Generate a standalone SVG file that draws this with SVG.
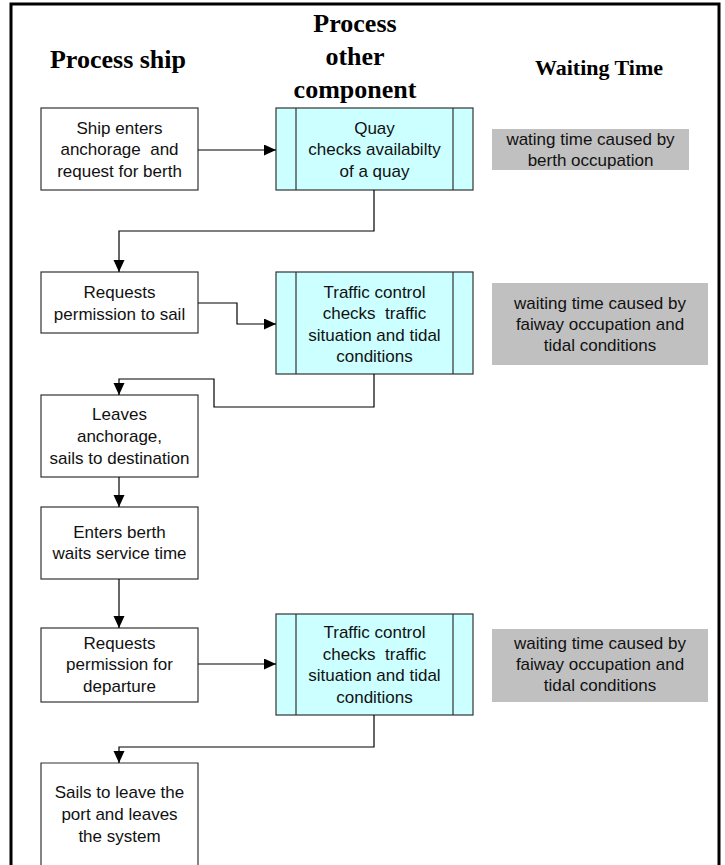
<svg xmlns="http://www.w3.org/2000/svg" width="725" height="865" viewBox="0 0 725 865">
<defs>
<style>
.box{fill:#fff;stroke:#333;stroke-width:1.2}
.proc{fill:#ccffff;stroke:#333;stroke-width:1.2}
.grey{fill:#c0c0c0;stroke:none}
.t{font-family:"Liberation Sans",Arial,sans-serif;font-size:17px;fill:#111;text-anchor:middle;white-space:pre}
.h{font-family:"Liberation Serif","Times New Roman",serif;font-weight:bold;fill:#000;text-anchor:middle}
.c{fill:none;stroke:#000;stroke-width:1.2}
</style>
<marker id="ah" markerUnits="userSpaceOnUse" markerWidth="13" markerHeight="12" refX="12" refY="5.5" orient="auto">
<path d="M0,0 L12,5.5 L0,11 z" fill="#000"/>
</marker>
</defs>
<rect width="725" height="865" fill="#fff"/>
<path d="M11,870 V4 H719 V870" fill="none" stroke="#000" stroke-width="3"/>

<g id="headers">
<text class="h" x="118" y="68" font-size="26">Process ship</text>
<text class="h" x="355" y="32" font-size="26">Process</text>
<text class="h" x="355" y="65" font-size="26">other</text>
<text class="h" x="355" y="98" font-size="26">component</text>
<text class="h" x="599" y="75" font-size="22">Waiting Time</text>
</g>

<g id="n1">
<rect class="box" x="41" y="108" width="157" height="82"/>
<text class="t" x="119.5" y="133.5">Ship enters</text>
<text class="t" x="119.5" y="155" xml:space="preserve">anchorage  and</text>
<text class="t" x="119.5" y="176.5">request for berth</text>
</g>
<g id="quay">
<rect class="proc" x="276" y="108" width="197" height="82"/>
<path class="proc" d="M296,108 V190 M453,108 V190"/>
<text class="t" x="374.5" y="133.5">Quay</text>
<text class="t" x="374.5" y="155">checks availabilty</text>
<text class="t" x="374.5" y="176.5">of a quay</text>
</g>
<g id="w1">
<rect class="grey" x="492" y="129" width="197" height="41"/>
<text class="t" x="590.5" y="145">wating time caused by</text>
<text class="t" x="590.5" y="166">berth occupation</text>
</g>

<g id="n2">
<rect class="box" x="41" y="272" width="157" height="61"/>
<text class="t" x="119.5" y="298">Requests</text>
<text class="t" x="119.5" y="319.5">permission to sail</text>
</g>
<g id="tc1">
<rect class="proc" x="276" y="272" width="197" height="102"/>
<path class="proc" d="M296,272 V374 M453,272 V374"/>
<text class="t" x="374.5" y="297.5">Traffic control</text>
<text class="t" x="374.5" y="319" xml:space="preserve">checks  traffic</text>
<text class="t" x="374.5" y="340.5">situation and tidal</text>
<text class="t" x="374.5" y="362">conditions</text>
</g>
<g id="w2">
<rect class="grey" x="492" y="283" width="216" height="82"/>
<text class="t" x="600" y="309">waiting time caused by</text>
<text class="t" x="600" y="330">faiway occupation and</text>
<text class="t" x="600" y="351">tidal conditions</text>
</g>

<g id="n3">
<rect class="box" x="41" y="395" width="157" height="82"/>
<text class="t" x="119.5" y="420">Leaves</text>
<text class="t" x="119.5" y="442">anchorage,</text>
<text class="t" x="119.5" y="463.5">sails to destination</text>
</g>
<g id="n4">
<rect class="box" x="41" y="507" width="157" height="72"/>
<text class="t" x="119.5" y="538">Enters berth</text>
<text class="t" x="119.5" y="559">waits service time</text>
</g>
<g id="n5">
<rect class="box" x="41" y="628" width="157" height="74"/>
<text class="t" x="119.5" y="649">Requests</text>
<text class="t" x="119.5" y="670">permission for</text>
<text class="t" x="119.5" y="692">departure</text>
</g>
<g id="tc2">
<rect class="proc" x="276" y="614" width="197" height="101"/>
<path class="proc" d="M296,614 V715 M453,614 V715"/>
<text class="t" x="374.5" y="638">Traffic control</text>
<text class="t" x="374.5" y="660" xml:space="preserve">checks  traffic</text>
<text class="t" x="374.5" y="681">situation and tidal</text>
<text class="t" x="374.5" y="703">conditions</text>
</g>
<g id="w3">
<rect class="grey" x="492" y="629" width="216" height="73"/>
<text class="t" x="600" y="649">waiting time caused by</text>
<text class="t" x="600" y="670">faiway occupation and</text>
<text class="t" x="600" y="691">tidal conditions</text>
</g>
<g id="n6">
<path class="box" d="M41,870 V763 H198 V870"/>
<text class="t" x="119.5" y="798">Sails to leave the</text>
<text class="t" x="119.5" y="820">port and leaves</text>
<text class="t" x="119.5" y="842">the system</text>
</g>

<g id="connectors">
<path class="c" d="M198,150 H276" marker-end="url(#ah)"/>
<path class="c" d="M374,190 V231 H119 V272" marker-end="url(#ah)"/>
<path class="c" d="M198,303 H237 V324 H276" marker-end="url(#ah)"/>
<path class="c" d="M374,374 V407 H214 V379 H119 V395" marker-end="url(#ah)"/>
<path class="c" d="M119,477 V507" marker-end="url(#ah)"/>
<path class="c" d="M119,579 V628" marker-end="url(#ah)"/>
<path class="c" d="M198,664 H276" marker-end="url(#ah)"/>
<path class="c" d="M374,715 V747 H119 V763" marker-end="url(#ah)"/>
</g>
</svg>
